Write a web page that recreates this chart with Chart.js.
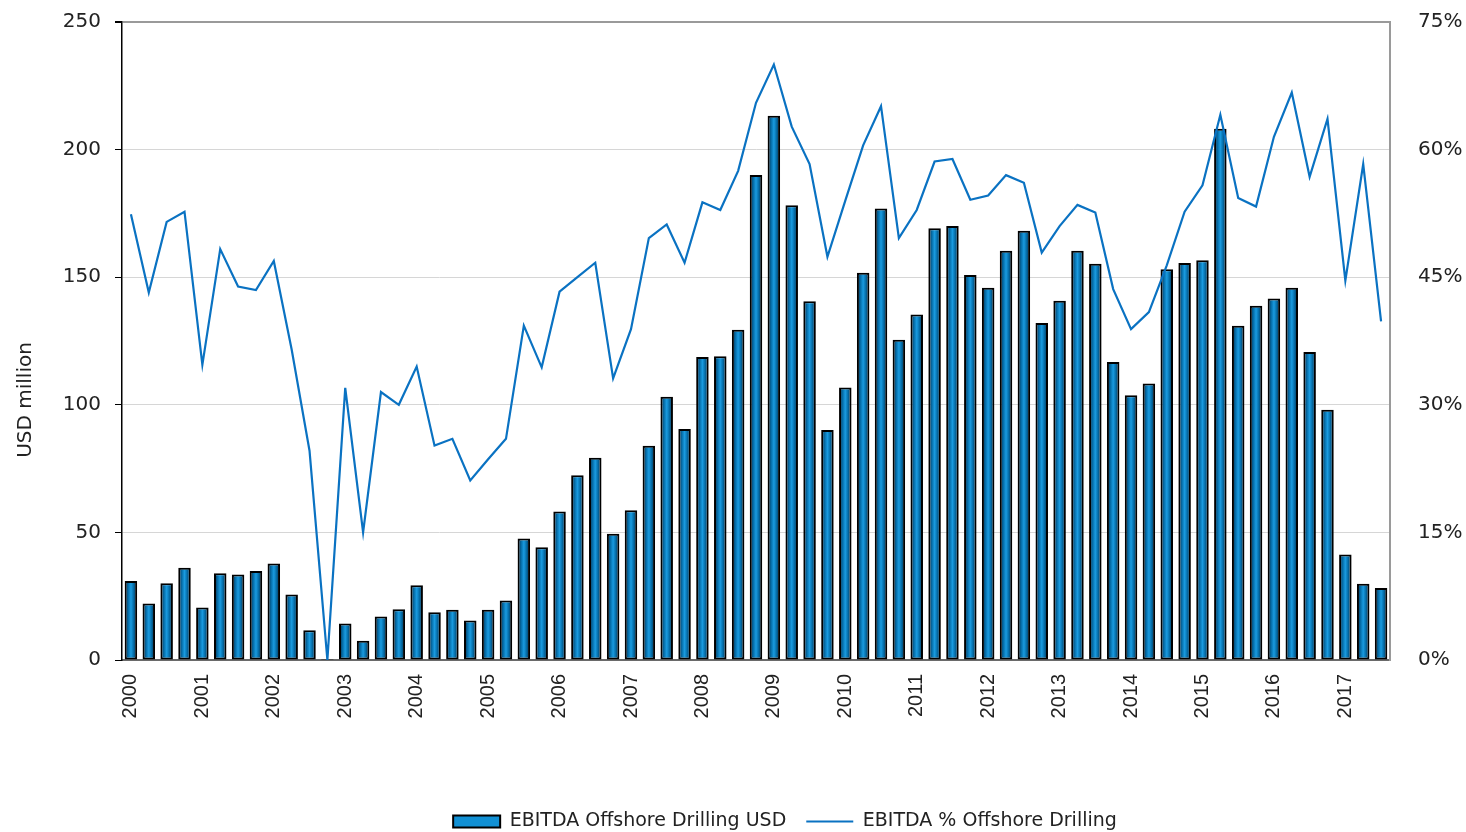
<!DOCTYPE html>
<html>
<head>
<meta charset="utf-8">
<script src="https://cdn.jsdelivr.net/npm/chart.js@4.4.1/dist/chart.umd.min.js"></script>
<style>
  html, body { margin: 0; padding: 0; background: #fff; }
  #wrap { width: 1466px; height: 832px; }
</style>
</head>
<body>
<div id="wrap"><canvas id="ebitdaChart" width="1466" height="832"></canvas></div>
<script>
// ===== Data (quarterly, 2000 Q1 - 2017 Q3) =====
const years = ['2000', '2001', '2002', '2003', '2004', '2005', '2006', '2007', '2008',
  '2009', '2010', '2011', '2012', '2013', '2014', '2015', '2016', '2017'];
const quarters = ['Q1', 'Q2', 'Q3', 'Q4'];

const ebitdaUsd = [
  31.0, 22.1, 30.1, 36.1,     // 2000
  20.6, 34.0, 33.5, 34.9,     // 2001
  37.8, 25.7, 11.7, 0.4,      // 2002
  14.3, 7.5, 17.0, 19.9,      // 2003
  29.3, 18.7, 19.7, 15.5,     // 2004
  19.7, 23.3, 47.6, 44.2,     // 2005
  58.2, 72.4, 79.3, 49.5,     // 2006
  58.7, 84.0, 103.2, 90.5,    // 2007
  118.7, 119.0, 129.4, 190.0, // 2008
  213.3, 178.2, 140.6, 90.1,  // 2009
  106.8, 151.7, 176.9, 125.5, // 2010
  135.4, 169.2, 170.1, 150.9, // 2011
  145.9, 160.4, 168.2, 132.1, // 2012
  140.8, 160.4, 155.3, 116.8, // 2013
  103.7, 108.3, 153.1, 155.6, // 2014
  156.6, 208.2, 131.0, 138.8, // 2015
  141.7, 145.9, 120.7, 98.1,  // 2016
  41.3, 29.9, 28.2            // 2017
];

const ebitdaPct = [
  52.4, 43.2, 51.5, 52.7,
  34.7, 48.3, 43.9, 43.5,
  46.9, 36.5, 24.6, 0,
  32.0, 15.0, 31.5, 30.0,
  34.5, 25.2, 26.0, 21.1,
  23.6, 26.0, 39.3, 34.4,
  43.3, 45.0, 46.7, 33.1,
  38.9, 49.6, 51.2, 46.7,
  53.8, 52.9, 57.5, 65.5,
  70.0, 62.7, 58.3, 47.4,
  54.0, 60.5, 65.1, 49.6,
  52.9, 58.6, 58.9, 54.1,
  54.6, 57.0, 56.1, 47.9,
  51.0, 53.5, 52.6, 43.6,
  38.9, 40.9, 46.4, 52.7,
  55.8, 64.1, 54.3, 53.3,
  61.5, 66.7, 56.8, 63.6,
  44.6, 58.3, 39.8
];

const usdTicks = [0, 50, 100, 150, 200, 250];
const pctTicks = [0, 15, 30, 45, 60, 75];

// quarter labels, e.g. "2000 Q1"
const categories = [];
years.forEach(y => quarters.forEach(q => categories.push(y + ' ' + q)));
categories.length = ebitdaUsd.length;

const BAR_PCT = 0.7;

// horizontal shading on each bar (dark edges, bright middle)
function barFill(c) {
  const chart = c.chart;
  const xs = chart.scales && chart.scales.x;
  if (!chart.chartArea || c.dataIndex === undefined || !xs) return '#0b82c4';
  const cx = xs.getPixelForValue(c.dataIndex);
  const half = xs.width / categories.length * BAR_PCT / 2;
  const g = chart.ctx.createLinearGradient(cx - half, 0, cx + half, 0);
  g.addColorStop(0, '#02263f');
  g.addColorStop(0.3, '#0670ac');
  g.addColorStop(0.5, '#1a9be0');
  g.addColorStop(0.7, '#0670ac');
  g.addColorStop(1, '#02263f');
  return g;
}

// left axis title, drawn lower than the chart middle like the original
const yTitle = {
  id: 'yTitle',
  afterDraw(chart) {
    const ctx = chart.ctx;
    ctx.save();
    ctx.translate(26, 400);
    ctx.rotate(-Math.PI / 2);
    ctx.font = '20px "DejaVu Sans"';
    ctx.fillStyle = '#222';
    ctx.textAlign = 'center';
    ctx.textBaseline = 'middle';
    ctx.fillText('USD million', 0, 0);
    ctx.restore();
  }
};

// fixed axis sizes so the plot area sits where the original has it
function fixY(width) {
  return s => {
    s.width = width;
    s.paddingTop = 0;
    s.paddingBottom = 0;
  };
}

const ctx = document.getElementById('ebitdaChart').getContext('2d');
new Chart(ctx, {
  data: {
    labels: categories,
    datasets: [
      {
        type: 'bar',
        label: 'EBITDA Offshore Drilling USD',
        data: ebitdaUsd,
        yAxisID: 'y',
        order: 1,
        backgroundColor: barFill,
        borderColor: '#000',
        borderWidth: 2,
        borderSkipped: false,
        barPercentage: BAR_PCT,
        categoryPercentage: 1
      },
      {
        type: 'line',
        label: 'EBITDA % Offshore Drilling',
        data: ebitdaPct,
        yAxisID: 'y1',
        order: 0,
        borderColor: '#0a72c2',
        backgroundColor: '#0a72c2',
        borderWidth: 2.2,
        pointRadius: 0,
        tension: 0,
        pointStyle: 'line',
        clip: 4
      }
    ]
  },
  options: {
    responsive: false,
    animation: false,
    // negative bottom/right padding pushes the legend down and to the right like the original
    layout: { padding: { top: 22, left: 0, right: -104, bottom: -9 } },
    plugins: {
      tooltip: { enabled: false },
      legend: {
        position: 'bottom',
        labels: {
          font: { family: 'DejaVu Sans', size: 19 },
          color: '#222',
          padding: 20,
          boxWidth: 47,
          boxHeight: 12,
          usePointStyle: true,
          pointStyleWidth: 47,
          generateLabels(chart) {
            return chart.data.datasets.map((ds, i) => ({
              text: ds.label,
              datasetIndex: i,
              fillStyle: i === 0 ? '#1190d4' : '#0a72c2',
              strokeStyle: i === 0 ? '#000' : '#0a72c2',
              lineWidth: i === 0 ? 2 : 2.2,
              pointStyle: i === 0 ? 'rect' : 'line',
              fontColor: '#222',
              hidden: false
            }));
          }
        }
      }
    },
    scales: {
      x: {
        offset: true,
        grid: { display: false },
        border: { color: '#6a6a6a', width: 2 },
        ticks: {
          autoSkip: false,
          minRotation: 90,
          maxRotation: 90,
          padding: 6,
          color: '#222',
          font: { family: 'Liberation Sans', size: 20 },
          callback: (v, i) => (i % 4 === 0 ? years[i / 4] : '')
        },
        afterFit: s => { s.height = 132; }
      },
      y: {
        position: 'left',
        min: 0,
        max: 250,
        afterBuildTicks: s => { s.ticks = usdTicks.map(v => ({ value: v })); },
        border: { color: '#000', width: 1.5 },
        grid: {
          color: c => (c.tick.value === 250 ? '#9a9a9a' : c.tick.value === 0 ? 'rgba(0,0,0,0)' : '#d6d6d6'),
          lineWidth: c => (c.tick.value === 250 ? 2 : 1),
          tickColor: '#000',
          tickLength: 7
        },
        ticks: {
          padding: 14,
          color: '#222',
          font: { family: 'DejaVu Sans', size: 20 }
        },
        afterFit: fixY(122)
      },
      y1: {
        position: 'right',
        min: 0,
        max: 75,
        afterBuildTicks: s => { s.ticks = pctTicks.map(v => ({ value: v })); },
        border: { color: '#9a9a9a', width: 2 },
        grid: { display: false },
        ticks: {
          padding: 20,
          color: '#222',
          font: { family: 'DejaVu Sans', size: 20 },
          callback: v => v + '%'
        },
        afterFit: fixY(180)
      }
    }
  },
  plugins: [yTitle]
});
</script>
</body>
</html>
